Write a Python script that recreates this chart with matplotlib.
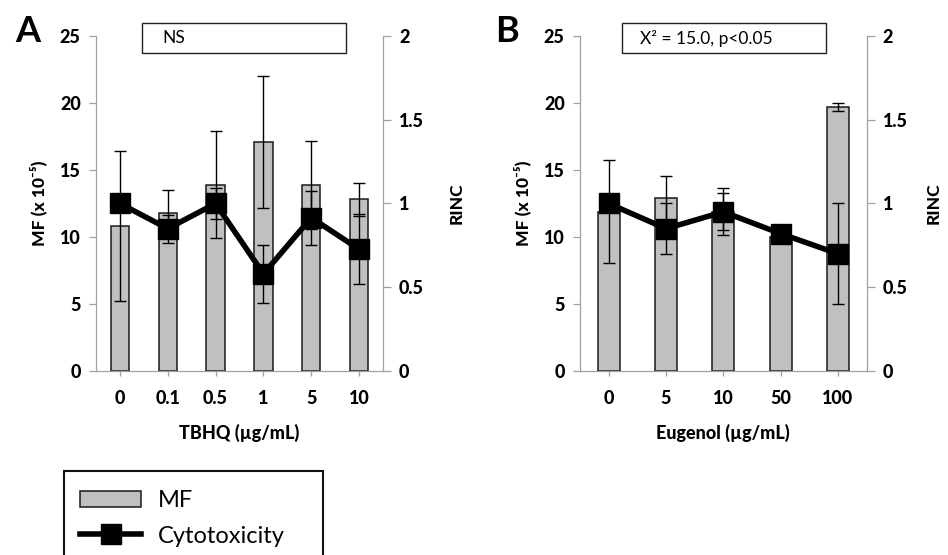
import matplotlib
matplotlib.use("Agg")
import matplotlib.pyplot as plt
from matplotlib.patches import Rectangle

plt.rcParams['font.family'] = ['Lato', 'DejaVu Sans']

# ---------------- data ----------------
tbhq_labels = ['0', '0.1', '0.5', '1', '5', '10']
tbhq_mf = [10.8, 11.8, 13.9, 17.1, 13.9, 12.8]
tbhq_mf_err = [5.6, 1.7, 4.0, 4.9, 3.3, 1.2]
tbhq_rinc = [1.0, 0.85, 1.0, 0.58, 0.915, 0.727]
tbhq_rinc_err = [0.04, 0.084, 0.093, 0.175, 0.16, 0.21]

eug_labels = ['0', '5', '10', '50', '100']
eug_mf = [11.9, 12.9, 11.9, 10.0, 19.7]
eug_mf_err = [3.85, 1.65, 1.75, 0.4, 0.3]
eug_rinc = [1.0, 0.85, 0.95, 0.82, 0.70]
eug_rinc_err = [0.04, 0.154, 0.11, 0.03, 0.30]

mf_ticks = [0, 5, 10, 15, 20, 25]
rinc_ticks = [0, 0.5, 1, 1.5, 2]
rinc_ticklabels = ['0', '0.5', '1', '1.5', '2']

W, H = 948, 555
fig = plt.figure(figsize=(W / 100, H / 100), dpi=100)

SPINE = '#a0a0a0'
BAR = '#c0c0c0'
HEAVY = 'black'


def px_ax(l, r, t, b):
    return [l / W, 1 - b / H, (r - l) / W, (b - t) / H]


def panel(rect, labels, mf, mf_err, rinc, rinc_err, xlabel, letter, letter_x,
          note, note_x, rinc_x):
    ax = fig.add_axes(rect)
    ax2 = ax.twinx()
    n = len(labels)
    x = list(range(n))
    bars = ax.bar(x, mf, width=0.385, color=BAR, edgecolor='#1a1a1a', linewidth=1.1,
                  yerr=mf_err, error_kw=dict(ecolor='black', elinewidth=1.0,
                                             capsize=4.5, capthick=1.0),
                  zorder=2)
    ax2.errorbar(x, rinc, yerr=rinc_err, fmt='none', ecolor='black',
                 elinewidth=1.0, capsize=4.5, capthick=1.0, zorder=3)
    line, = ax2.plot(x, rinc, color='black', lw=4, marker='s', ms=14.5,
                     mfc='black', mec='black', mew=1, zorder=4)
    ax.set_xlim(-0.5, n - 0.5)
    ax.set_ylim(0, 25)
    ax2.set_ylim(0, 2)
    ax.set_yticks(mf_ticks)
    ax.set_yticklabels([str(t) for t in mf_ticks], fontsize=13, fontweight=HEAVY)
    ax2.set_yticks(rinc_ticks)
    ax2.set_yticklabels(rinc_ticklabels, fontsize=13, fontweight=HEAVY)
    ax.set_xticks(x)
    ax.set_xticklabels(labels, fontsize=13, fontweight=HEAVY)
    for a in (ax, ax2):
        a.spines['top'].set_visible(False)
        for s in ('left', 'right', 'bottom'):
            a.spines[s].set_color(SPINE)
            a.spines[s].set_linewidth(0.9)
    ax.spines['right'].set_visible(False)
    ax2.spines['left'].set_visible(False)
    ax2.spines['bottom'].set_visible(False)
    ax.tick_params(axis='y', direction='out', length=5, width=0.9, color=SPINE, pad=6)
    ax2.tick_params(axis='y', direction='out', length=5.5, width=0.9, color=SPINE, pad=6)
    ax.tick_params(axis='x', direction='out', length=3.6, width=0.9, color=SPINE, pad=10)
    ax.set_ylabel('MF (x 10⁻⁵)', fontsize=12.5, fontweight=HEAVY, va='center')
    ax.yaxis.set_label_coords(-0.2, 0.5)
    ax2.set_ylabel('RINC', fontsize=12.5, fontweight=HEAVY, va='center', rotation=90)
    ax2.yaxis.set_label_coords(rinc_x, 0.5)
    ax.set_xlabel(xlabel, fontsize=13, fontweight=HEAVY, va='center')
    ax.xaxis.set_label_coords(0.5, -0.185)
    # annotation box
    ax.add_patch(Rectangle((note_x[0], 0.949), note_x[1], 0.09, transform=ax.transAxes,
                           facecolor='white', edgecolor='#222222', lw=1.0,
                           clip_on=False, zorder=5))
    ax.text(note_x[2], 0.994, note, transform=ax.transAxes, fontsize=12.5,
            ha='left', va='center', zorder=6)
    fig.text(letter_x / W, 1 - 31.5 / H, letter, fontsize=26, fontweight='bold',
             ha='center', va='center')
    return bars, line


bars, line = panel(px_ax(96, 383, 36, 371), tbhq_labels, tbhq_mf, tbhq_mf_err,
                   tbhq_rinc, tbhq_rinc_err, 'TBHQ (µg/mL)', 'A', 27.5,
                   'NS', (0.160, 0.711, 0.230), 1.255)
panel(px_ax(580, 866.7, 36, 371), eug_labels, eug_mf, eug_mf_err,
      eug_rinc, eug_rinc_err, 'Eugenol (µg/mL)', 'B', 506.5,
      'X² = 15.0, p<0.05', (0.1465, 0.7115, 0.209), 1.235)

# legend
fig.patches.append(Rectangle((64 / W, -0.1), 259 / W, 0.1 + (1 - 471 / H),
                             transform=fig.transFigure, facecolor='white',
                             edgecolor='#111111', lw=1.5, zorder=0))
fig.legend([bars, line], ['MF', 'Cytotoxicity'], loc='upper left',
           bbox_to_anchor=(80 / W, 1 - 490 / H), borderaxespad=0, borderpad=0,
           frameon=False, fontsize=17, handlelength=2.6, handleheight=0.68,
           handletextpad=0.7, labelspacing=0.62)

fig.savefig('out.png', dpi=100)
